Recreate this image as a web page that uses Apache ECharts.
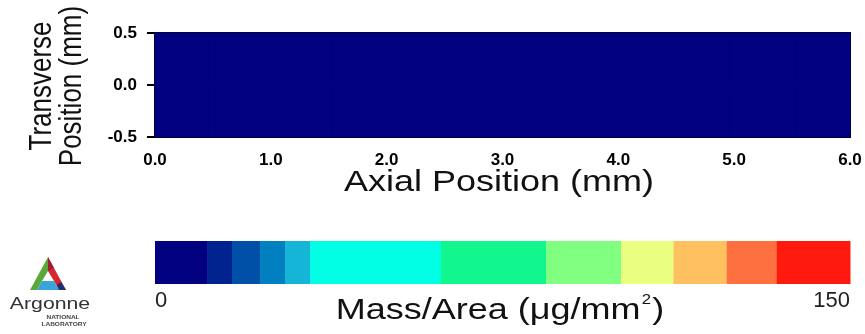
<!DOCTYPE html>
<html>
<head>
<meta charset="utf-8">
<script src="https://cdn.jsdelivr.net/npm/echarts@6/dist/echarts.min.js"></script>
<style>
  html, body { margin: 0; padding: 0; background: #fff; }
  #chart { width: 865px; height: 334px; }
</style>
</head>
<body>
<div id="chart"></div>
<script>
// map grid (cell centres, mm) and the mass/area read in each cell
const axialPositions = [0.25, 0.75, 1.25, 1.75, 2.25, 2.75, 3.25, 3.75, 4.25, 4.75, 5.25, 5.75];
const transversePositions = [-0.25, 0.25];
const massArea = [
  [0, 0, 0, 0, 0, 0, 0, 0, 0, 0, 0, 0],
  [0, 0, 0, 0, 0, 0, 0, 0, 0, 0, 0, 0],
];

// colour bar: bin edges (ug/mm2) and colours
const massBins = [0, 11.3, 16.7, 22.7, 28.1, 33.5, 61.7, 84.4, 100.6, 111.9, 123.4, 134.2, 150];
const binColors = [
  "#000080", "#00238f", "#0050a8", "#0080c0", "#15b5d8", "#00ffe4",
  "#12f68e", "#80ff80", "#eaff80", "#ffc060", "#ff7040", "#ff1a10",
];

const xTicks = [0, 1, 2, 3, 4, 5, 6];
const yTicks = [-0.5, 0, 0.5];

function colorFor(v) {
  for (let i = 0; i < binColors.length; i++) {
    if (v < massBins[i + 1]) return binColors[i];
  }
  return binColors[binColors.length - 1];
}

const cells = [];
transversePositions.forEach((y, j) => {
  axialPositions.forEach((x, i) => {
    cells.push([x, y, massArea[j][i]]);
  });
});

const bins = binColors.map((c, i) => [massBins[i], massBins[i + 1], i]);

const chart = echarts.init(document.getElementById("chart"));

const tickFont = { fontFamily: "Liberation Sans", fontWeight: "bold", fontSize: 17, color: "#000" };
const titleFont = "30px 'Liberation Sans'";
// the original picture is a bit stretched sideways
const stretch = 1.2;

const option = {
  animation: false,
  backgroundColor: "#fff",
  grid: [
    { left: 155, right: 15, top: 33, height: 104, show: true, borderColor: "#000", borderWidth: 2 },
    { left: 155, right: 15, top: 241, height: 43 },
  ],
  xAxis: [
    {
      gridIndex: 0, type: "value", min: xTicks[0], max: xTicks[xTicks.length - 1], interval: 1,
      axisLine: { lineStyle: { color: "#000", width: 2 } },
      axisTick: { inside: false, length: 7, lineStyle: { color: "#000", width: 2 } },
      splitLine: { show: false },
      axisLabel: { ...tickFont, margin: 15, formatter: (v) => v.toFixed(1) },
    },
    {
      gridIndex: 1, type: "value", min: massBins[0], max: massBins[massBins.length - 1], interval: 150,
      axisLine: { show: false }, axisTick: { show: false }, splitLine: { show: false },
      axisLabel: {
        fontFamily: "Liberation Sans", fontSize: 22, color: "#222", margin: 6,
        alignMinLabel: "left", alignMaxLabel: "right",
      },
    },
  ],
  yAxis: [
    {
      gridIndex: 0, type: "value", min: yTicks[0], max: yTicks[yTicks.length - 1], interval: 0.5,
      axisLine: { lineStyle: { color: "#000", width: 2 } },
      axisTick: { inside: false, length: 8, lineStyle: { color: "#000", width: 2 } },
      splitLine: { show: false },
      axisLabel: { ...tickFont, margin: 18, formatter: (v) => v.toFixed(1) },
    },
    { gridIndex: 1, type: "value", min: 0, max: 1, show: false },
  ],
  series: [
    {
      type: "custom",
      xAxisIndex: 0, yAxisIndex: 0,
      data: cells,
      renderItem: (params, api) => {
        const x = api.value(0), y = api.value(1);
        const p0 = api.coord([x - 0.25, y + 0.25]);
        const p1 = api.coord([x + 0.25, y - 0.25]);
        const c = colorFor(api.value(2));
        return {
          type: "rect",
          shape: { x: p0[0], y: p0[1], width: p1[0] - p0[0], height: p1[1] - p0[1] },
          style: { fill: c, stroke: c, lineWidth: 1 },
        };
      },
      z: 1,
    },
    {
      type: "custom",
      xAxisIndex: 1, yAxisIndex: 1,
      data: bins,
      renderItem: (params, api) => {
        const p0 = api.coord([api.value(0), 1]);
        const p1 = api.coord([api.value(1), 0]);
        return {
          type: "rect",
          shape: { x: p0[0], y: p0[1], width: p1[0] - p0[0] + 0.5, height: p1[1] - p0[1] },
          style: { fill: binColors[api.value(2)] },
        };
      },
    },
  ],
  graphic: [
    // axis titles
    {
      type: "text", x: 57, y: 86, rotation: Math.PI / 2, scaleY: stretch,
      style: {
        text: "Transverse\nPosition (mm)", font: "26px 'Liberation Sans'", lineHeight: 25,
        fill: "#111", align: "center", verticalAlign: "middle",
      },
    },
    {
      type: "text", x: 499, y: 183, scaleX: stretch,
      style: { text: "Axial Position (mm)", font: titleFont, fill: "#111", align: "center", verticalAlign: "middle" },
    },
    {
      type: "text", x: 500, y: 311, scaleX: stretch,
      style: {
        text: "{a|Mass/Area (\u03bcg/mm}{s|2}{a|)}", align: "center", verticalAlign: "middle",
        rich: {
          a: { font: titleFont, fill: "#111" },
          s: { font: "14px 'Liberation Sans'", fill: "#111", padding: [0, 1, 22, 1] },
        },
      },
    },
    // Argonne logo
    { type: "polygon", shape: { points: [[48, 257], [30, 290], [37, 290], [42, 281], [48, 271]] }, style: { fill: "#5aa839" } },
    { type: "polygon", shape: { points: [[48, 257], [48, 271], [54, 281], [59, 290], [66, 290]] }, style: { fill: "#d9262e" } },
    { type: "polygon", shape: { points: [[48, 257], [54, 268], [48, 271]] }, style: { fill: "#9c1f36" } },
    { type: "polygon", shape: { points: [[37, 290], [42, 281], [54, 281], [59, 290]] }, style: { fill: "#3aa3dc" } },
    { type: "polygon", shape: { points: [[59, 290], [57, 285], [61, 282], [66, 290]] }, style: { fill: "#1d2f6f" } },
    {
      type: "text", x: 50, y: 313, scaleX: 1.25,
      style: { text: "Argonne", font: "17px 'Liberation Sans'", fill: "#333", align: "center", verticalAlign: "bottom" },
    },
    {
      type: "text", x: 63, y: 318, scaleX: 1.3,
      style: { text: "NATIONAL", font: "bold 5px 'Liberation Sans'", fill: "#444", align: "center", verticalAlign: "middle" },
    },
    {
      type: "text", x: 64, y: 325, scaleX: 1.3,
      style: { text: "LABORATORY", font: "bold 5px 'Liberation Sans'", fill: "#444", align: "center", verticalAlign: "middle" },
    },
  ],
};

chart.setOption(option);
</script>
</body>
</html>
